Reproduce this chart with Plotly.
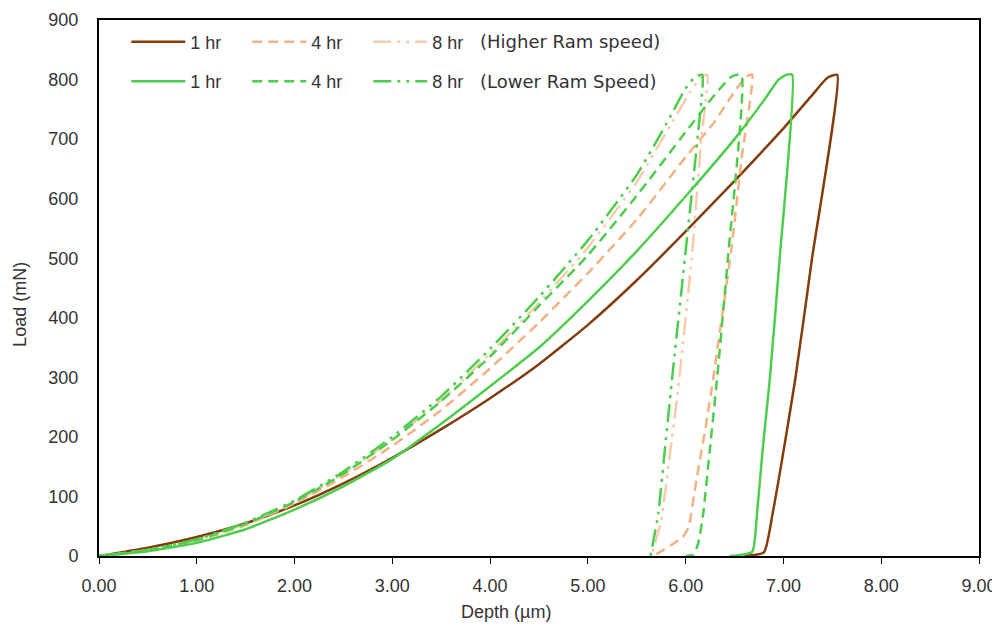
import plotly.graph_objects as go

# Higher ram speed (loading then unloading)
high_1hr_depth = [0, 0.5, 1.0, 1.5, 2.0, 2.5, 3.0, 3.5, 4.0, 4.5, 5.0, 5.5, 6.0, 6.5, 7.0, 7.3, 7.45, 7.55, 7.29, 7.12, 6.98, 6.89, 6.80, 6.60]
high_1hr_load = [0, 14, 32, 55, 85, 122, 165, 213, 265, 322, 388, 463, 545, 630, 718, 775, 803, 808, 497, 296, 156, 72, 6, 0]

high_4hr_depth = [0, 0.5, 1.0, 1.5, 2.0, 2.5, 3.0, 3.5, 4.0, 4.5, 5.0, 5.5, 6.0, 6.3, 6.5, 6.62, 6.68, 6.57, 6.47, 6.28, 6.2, 6.11, 6.03, 5.97, 5.67]
high_4hr_load = [0, 10, 26, 52, 88, 133, 185, 245, 315, 392, 475, 565, 670, 730, 780, 805, 808, 665, 519, 296, 212, 128, 49, 32, 0]

high_8hr_depth = [0, 0.5, 1.0, 1.5, 2.0, 2.5, 3.0, 3.5, 4.0, 4.5, 5.0, 5.5, 5.85, 6.05, 6.15, 6.22, 6.16, 6.06, 5.91, 5.84, 5.75, 5.65]
high_8hr_load = [0, 10, 27, 54, 90, 138, 195, 262, 340, 425, 518, 628, 725, 780, 803, 808, 700, 497, 262, 173, 60, 0]

# Lower ram speed (loading then unloading)
low_1hr_depth = [0, 0.5, 1.0, 1.5, 2.0, 2.5, 3.0, 3.5, 4.0, 4.5, 5.0, 5.5, 6.0, 6.5, 6.8, 6.95, 7.03, 7.09, 6.96, 6.86, 6.79, 6.73, 6.68, 6.45]
low_1hr_load = [0, 8, 22, 45, 78, 117, 163, 222, 285, 350, 428, 512, 604, 700, 765, 800, 808, 808, 497, 296, 183, 72, 7, 0]

low_4hr_depth = [0, 0.5, 1.0, 1.5, 2.0, 2.5, 3.0, 3.5, 4.0, 4.5, 5.0, 5.5, 6.0, 6.3, 6.47, 6.57, 6.43, 6.32, 6.25, 6.18, 6.13, 6.08, 6.0]
low_4hr_load = [0, 10, 27, 54, 91, 138, 195, 260, 335, 420, 505, 605, 712, 775, 805, 808, 497, 296, 183, 72, 22, 2, 0]

low_8hr_depth = [0, 0.5, 1.0, 1.5, 2.0, 2.5, 3.0, 3.5, 4.0, 4.5, 5.0, 5.5, 5.8, 6.0, 6.1, 6.17, 6.12, 5.99, 5.86, 5.79, 5.72, 5.64]
low_8hr_load = [0, 10, 28, 56, 93, 142, 200, 268, 348, 435, 530, 640, 725, 785, 805, 808, 700, 497, 296, 183, 72, 0]

x_ticks = [0, 1, 2, 3, 4, 5, 6, 7, 8, 9]
y_ticks = [0, 100, 200, 300, 400, 500, 600, 700, 800, 900]
group_labels = ["(Higher Ram speed)", "(Lower Ram Speed)"]
x_title = "Depth (µm)"
y_title = "Load (mN)"

BROWN = "#843C0C"
SALMON4 = "#F4B183"
SALMON8 = "#F8CBAD"
GREEN = "#4CCD4C"
DASH4 = "10px,6px"
DASH8 = "18px,6px,3px,6px,3px,6px"
LW = 2.5

fig = go.Figure()
series = [
    (high_1hr_depth, high_1hr_load, "1 hr", BROWN, "solid", "legend"),
    (high_4hr_depth, high_4hr_load, "4 hr", SALMON4, DASH4, "legend"),
    (high_8hr_depth, high_8hr_load, "8 hr", SALMON8, DASH8, "legend"),
    (low_1hr_depth, low_1hr_load, "1 hr", GREEN, "solid", "legend2"),
    (low_4hr_depth, low_4hr_load, "4 hr", GREEN, DASH4, "legend2"),
    (low_8hr_depth, low_8hr_load, "8 hr", GREEN, DASH8, "legend2"),
]
for d, l, name, color, dash, leg in series:
    fig.add_trace(go.Scatter(x=d, y=l, mode="lines", name=name, legend=leg,
                             line=dict(color=color, width=LW, dash=dash, shape="spline", smoothing=0.5)))

FONT = "Liberation Sans, Arial, sans-serif"
TXT = "#333333"
ROW1, ROW2 = 0.959, 0.885
legend_common = dict(orientation="h", bgcolor="rgba(0,0,0,0)", font=dict(size=18, color=TXT),
                     entrywidth=52, entrywidthmode="pixels", xanchor="left", yanchor="middle",
                     itemwidth=54)
fig.update_layout(
    width=992, height=622,
    margin=dict(l=91, r=21, t=12, b=74),
    paper_bgcolor="white", plot_bgcolor="white",
    font=dict(family=FONT, size=18, color=TXT),
    legend=dict(x=0.031, y=ROW1, **legend_common),
    legend2=dict(x=0.031, y=ROW2, **legend_common),
    xaxis=dict(range=[0, 9], tickvals=x_ticks, tickformat=".2f", showgrid=False, zeroline=False,
               showline=True, linecolor="black", linewidth=2, mirror=True, automargin=False,
               ticks="outside", ticklen=6, tickcolor="black", ticklabelstandoff=6,
               tickfont=dict(size=18)),
    yaxis=dict(range=[0, 900], tickvals=y_ticks, showgrid=False, zeroline=False,
               showline=True, linecolor="black", linewidth=2, mirror=True, automargin=False,
               ticks="", ticklabelstandoff=15, tickfont=dict(size=18)),
)
for label, yrow in zip(group_labels, [ROW1, ROW2]):
    fig.add_annotation(text=label, xref="paper", yref="paper", x=0.431, y=yrow,
                       xanchor="left", yanchor="middle", showarrow=False,
                       font=dict(size=18, color=TXT, family="DejaVu Sans, sans-serif"))
# axis titles
fig.add_annotation(text=x_title, xref="paper", yref="paper", x=0.462, y=-0.105,
                   xanchor="center", yanchor="middle", showarrow=False,
                   font=dict(size=18, color=TXT))
fig.add_annotation(text=y_title, xref="paper", yref="paper", x=-0.090, y=0.47,
                   xanchor="center", yanchor="middle", showarrow=False, textangle=-90,
                   font=dict(size=18, color=TXT))
fig.write_html("out.html")
